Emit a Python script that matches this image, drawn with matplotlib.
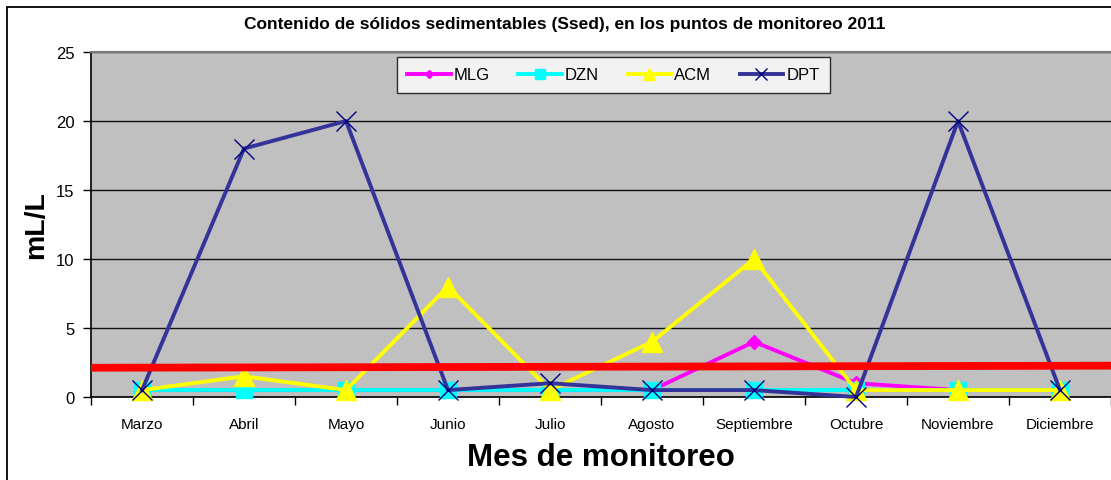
"""
Ssed por punto de monitoreo, 2011
"""
import numpy as np
import matplotlib
matplotlib.use("Agg")
import matplotlib.pyplot as plt
from matplotlib.patches import Rectangle

plt.rcParams["font.family"] = ["Liberation Sans", "DejaVu Sans"]

meses = ["Marzo", "Abril", "Mayo", "Junio", "Julio", "Agosto",
         "Septiembre", "Octubre", "Noviembre", "Diciembre"]
mlg = [0.5, 0.5, 0.5, 0.5, 0.5, 0.5, 4, 1, 0.5, 0.5]
dzn = [0.5, 0.5, 0.5, 0.5, 0.5, 0.5, 0.5, 0.5, 0.5, 0.5]
acm = [0.5, 1.5, 0.5, 8, 0.5, 4, 10, 0.5, 0.5, 0.5]
dpt = [0.5, 18, 20, 0.5, 1, 0.5, 0.5, 0, 20, 0.5]
limite = [2.12, 2.27]   # linea roja (limite), extremo izq / der
y_ticks = [0, 5, 10, 15, 20, 25]

W, H = 1111, 481
fig = plt.figure(figsize=(W / 100, H / 100), dpi=100)
fig.patch.set_facecolor("white")

# marco exterior del grafico
fig.patches.append(Rectangle((6.5 / W, -0.2), 1.2, 1 - 8 / H + 0.2,
                             transform=fig.transFigure, fill=False,
                             edgecolor="black", linewidth=1.3))

ax = fig.add_axes([91 / W, (H - 398) / H, 1020 / W, 345 / H])
ax.set_facecolor("#C0C0C0")

x = np.arange(len(meses))
ax.plot(x, mlg, color="#FF00FF", lw=2.8, marker="D", ms=7.5,
        mec="#FF00FF", label="MLG", zorder=3, clip_on=False)
ax.plot(x, dzn, color="#00FFFF", lw=2.8, marker="s", ms=11.5,
        mec="#00FFFF", label="DZN", zorder=4, clip_on=False)
ax.plot(x, acm, color="#FFFF00", lw=2.8, marker="^", ms=14,
        mec="#FFFF00", label="ACM", zorder=5, clip_on=False)
ax.plot(x, dpt, color="#333399", lw=2.8, marker="x", ms=14,
        mec="#000080", mew=1.0, label="DPT", zorder=6, clip_on=False)

# limite (linea roja)
ax.plot([-0.5, len(meses) - 0.5], limite, color="#FF0000", lw=5.6,
        solid_capstyle="butt", zorder=7)

ax.set_xlim(-0.5, len(meses) - 0.5)
ax.set_ylim(0, 25)
ax.set_yticks(y_ticks)
ax.yaxis.grid(True, color="#111111", lw=1.0)
ax.set_axisbelow(True)

ax.set_xticks(x)
ax.set_xticklabels(meses, fontsize=11)
ax.set_xticks(np.arange(-0.5, len(meses)), minor=True)
ax.tick_params(axis="x", which="major", length=0, pad=14.5)
ax.tick_params(axis="x", which="minor", length=6, width=1, direction="out")
ax.tick_params(axis="y", length=6, width=1, labelsize=12, pad=6)

ax.spines["right"].set_visible(False)
ax.spines["top"].set_color("#777777")
ax.spines["top"].set_linewidth(1.5)
ax.spines["left"].set_linewidth(1.2)
ax.spines["bottom"].set_linewidth(1.2)

ax.set_ylabel("mL/L", fontsize=20.5, fontweight="bold")
ax.yaxis.set_label_coords(-42 / 1020, 0.5)
ax.set_xlabel("Mes de monitoreo", fontsize=22.5, fontweight="bold")
ax.xaxis.set_label_coords(0.5, -45 / 345)

leg = ax.legend(loc="upper left", bbox_to_anchor=(306 / 1020, 1 - 5 / 345),
                ncol=4, fontsize=12, frameon=True, fancybox=False,
                handlelength=2.6, handletextpad=0.2, columnspacing=1.7,
                borderpad=0.62, markerscale=0.6, borderaxespad=0)
leg.get_frame().set_edgecolor("black")
leg.get_frame().set_linewidth(1.0)

fig.text(565 / W, 1 - 24 / H,
         "Contenido de sólidos sedimentables (Ssed), en los puntos de monitoreo 2011",
         ha="center", va="center", fontsize=12.5, fontweight="bold")

fig.savefig("out.png", dpi=100)
